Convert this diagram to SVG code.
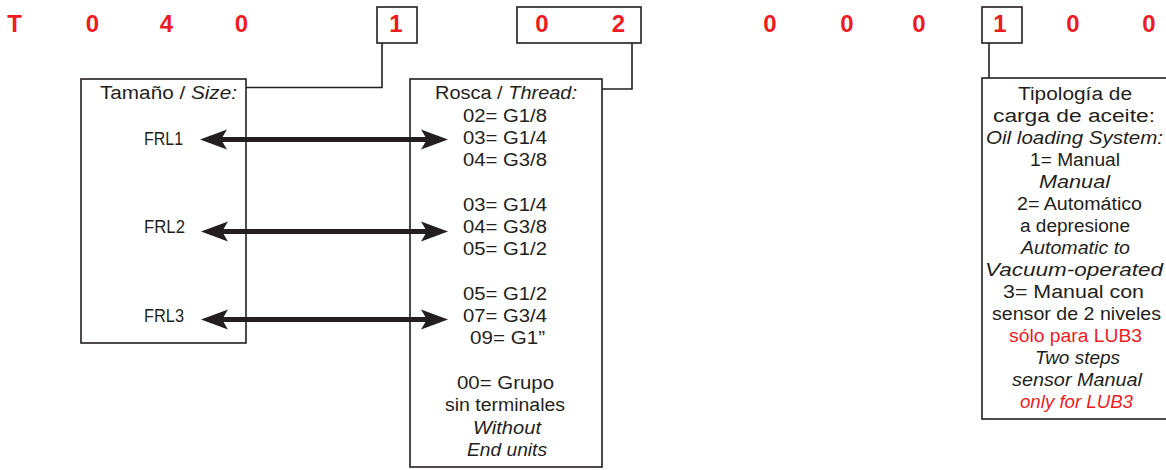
<svg xmlns="http://www.w3.org/2000/svg" width="1166" height="470" viewBox="0 0 1166 470">
<style>
.code{font-family:"Liberation Sans",Arial,sans-serif;font-weight:bold;font-size:24px;fill:#ed1c24;text-anchor:middle}
.t{font-family:"Liberation Sans",Arial,sans-serif;font-size:18px;fill:#231f20}
.i{font-style:italic}
.r{fill:#ed1c24}
.box{fill:#fff;stroke:#231f20;stroke-width:1.6}
.conn{fill:none;stroke:#231f20;stroke-width:1.6}
.arrow{fill:none;stroke:#231f20;stroke-width:5;marker-start:url(#ah);marker-end:url(#ah)}
</style>
<defs>
<marker id="ah" markerUnits="userSpaceOnUse" viewBox="0 -11 28 22" refX="19" refY="0" markerWidth="28" markerHeight="22" orient="auto-start-reverse">
<path d="M0,-10 L27,0 L0,10 L6,0 Z" fill="#231f20"/>
</marker>
</defs>
<rect width="1166" height="470" fill="#fff"/>

<g id="code">
<text class="code" x="14.5" y="32">T</text>
<text class="code" x="92.5" y="32">0</text>
<text class="code" x="166.5" y="32">4</text>
<text class="code" x="241.5" y="32">0</text>
<text class="code" x="770" y="32">0</text>
<text class="code" x="847" y="32">0</text>
<text class="code" x="919" y="32">0</text>
<text class="code" x="1073" y="32">0</text>
<text class="code" x="1149" y="32">0</text>
</g>

<g id="code-size">
<rect class="box" x="377" y="7" width="40" height="36"/>
<text class="code" x="396" y="32">1</text>
</g>
<g id="code-thread">
<rect class="box" x="517" y="7" width="124" height="36"/>
<text class="code" x="542" y="32">0</text>
<text class="code" x="618.5" y="32">2</text>
</g>
<g id="code-oil">
<rect class="box" x="982" y="7" width="40" height="36"/>
<text class="code" x="1000" y="32">1</text>
</g>

<g id="size-box">
<rect class="box" x="81" y="79" width="165" height="264"/>
<text class="t" x="100" y="99" textLength="137" lengthAdjust="spacingAndGlyphs">Tamaño / <tspan class="i">Size:</tspan></text>
<text class="t" x="144" y="145" textLength="39" lengthAdjust="spacingAndGlyphs">FRL1</text>
<text class="t" x="144" y="233" textLength="41" lengthAdjust="spacingAndGlyphs">FRL2</text>
<text class="t" x="144" y="322" textLength="40" lengthAdjust="spacingAndGlyphs">FRL3</text>
</g>

<g id="thread-box">
<rect class="box" x="410" y="79" width="192" height="388"/>
<text class="t" x="435" y="99" textLength="142" lengthAdjust="spacingAndGlyphs">Rosca / <tspan class="i">Thread:</tspan></text>
<text class="t" x="463" y="121.5" textLength="84" lengthAdjust="spacingAndGlyphs">02= G1/8</text>
<text class="t" x="463" y="143.8" textLength="84" lengthAdjust="spacingAndGlyphs">03= G1/4</text>
<text class="t" x="463" y="166" textLength="84" lengthAdjust="spacingAndGlyphs">04= G3/8</text>
<text class="t" x="463" y="210.5" textLength="84" lengthAdjust="spacingAndGlyphs">03= G1/4</text>
<text class="t" x="463" y="232.8" textLength="84" lengthAdjust="spacingAndGlyphs">04= G3/8</text>
<text class="t" x="463" y="255" textLength="84" lengthAdjust="spacingAndGlyphs">05= G1/2</text>
<text class="t" x="463" y="299.7" textLength="84" lengthAdjust="spacingAndGlyphs">05= G1/2</text>
<text class="t" x="463" y="322" textLength="84" lengthAdjust="spacingAndGlyphs">07= G3/4</text>
<text class="t" x="470" y="344.3" textLength="75" lengthAdjust="spacingAndGlyphs">09= G1”</text>
<text class="t" x="457" y="388.9" textLength="97" lengthAdjust="spacingAndGlyphs">00= Grupo</text>
<text class="t" x="445" y="411.2" textLength="120" lengthAdjust="spacingAndGlyphs">sin terminales</text>
<text class="t i" x="473" y="433.5" textLength="68" lengthAdjust="spacingAndGlyphs">Without</text>
<text class="t i" x="467" y="455.8" textLength="80" lengthAdjust="spacingAndGlyphs">End units</text>
</g>

<g id="oil-box">
<rect class="box" x="982" y="78" width="190" height="341"/>
<text class="t" x="1018" y="99.5" textLength="114" lengthAdjust="spacingAndGlyphs">Tipología de</text>
<text class="t" x="993" y="121.5" textLength="162" lengthAdjust="spacingAndGlyphs">carga de aceite:</text>
<text class="t i" x="986" y="143.5" textLength="177" lengthAdjust="spacingAndGlyphs">Oil loading System:</text>
<text class="t" x="1030" y="165.5" textLength="90" lengthAdjust="spacingAndGlyphs">1= Manual</text>
<text class="t i" x="1039" y="187.5" textLength="71" lengthAdjust="spacingAndGlyphs">Manual</text>
<text class="t" x="1017" y="209.5" textLength="125" lengthAdjust="spacingAndGlyphs">2= Automático</text>
<text class="t" x="1020" y="231.5" textLength="110" lengthAdjust="spacingAndGlyphs">a depresione</text>
<text class="t i" x="1021" y="253.5" textLength="109" lengthAdjust="spacingAndGlyphs">Automatic to</text>
<text class="t i" x="985" y="275.5" textLength="178" lengthAdjust="spacingAndGlyphs">Vacuum-operated</text>
<text class="t" x="1003" y="297.5" textLength="141" lengthAdjust="spacingAndGlyphs">3= Manual con</text>
<text class="t" x="992" y="319.5" textLength="169" lengthAdjust="spacingAndGlyphs">sensor de 2 niveles</text>
<text class="t r" x="1009" y="341.5" textLength="133" lengthAdjust="spacingAndGlyphs">sólo para LUB3</text>
<text class="t i" x="1035" y="363.5" textLength="85" lengthAdjust="spacingAndGlyphs">Two steps</text>
<text class="t i" x="1012" y="385.5" textLength="130" lengthAdjust="spacingAndGlyphs">sensor Manual</text>
<text class="t i r" x="1020" y="407.5" textLength="113" lengthAdjust="spacingAndGlyphs">only for LUB3</text>
</g>

<g id="connectors">
<polyline class="conn" points="382,43 382,87.5 246,87.5"/>
<polyline class="conn" points="632,43 632,89 602,89"/>
<polyline class="conn" points="989,43 989,78"/>
<line class="arrow" x1="208" y1="139.5" x2="440" y2="139.5"/>
<line class="arrow" x1="209" y1="231.5" x2="440" y2="231.5"/>
<line class="arrow" x1="209" y1="319.5" x2="440" y2="319.5"/>
</g>
</svg>
